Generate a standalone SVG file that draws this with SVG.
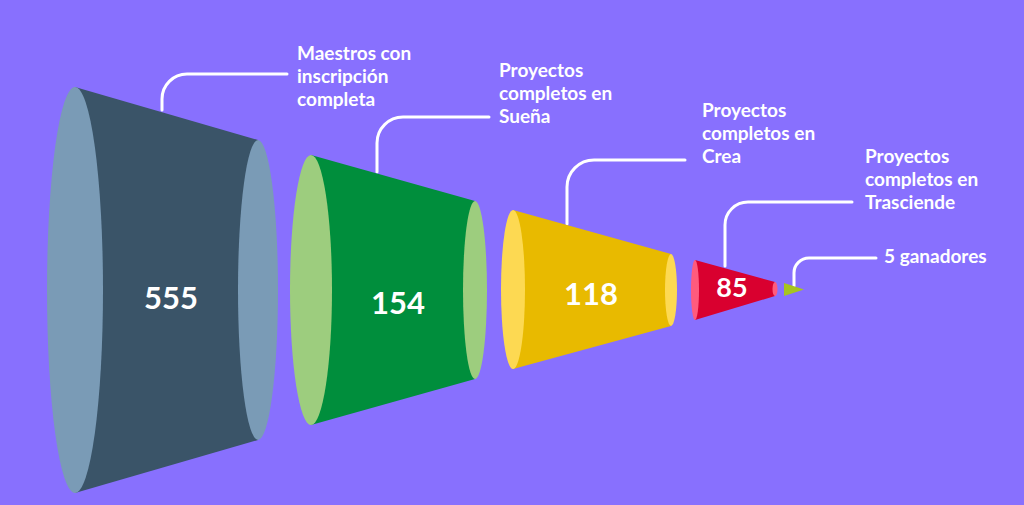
<svg xmlns="http://www.w3.org/2000/svg" width="1024" height="505" viewBox="0 0 1024 505">
<style>
.lbl{font-family:Lato,"Liberation Sans",sans-serif;font-weight:700;font-size:19px;fill:#ffffff}
.num{font-family:Lato,"Liberation Sans",sans-serif;font-weight:700;fill:#ffffff;text-anchor:middle}
.conn{fill:none;stroke:#ffffff;stroke-width:3;stroke-linecap:round}
</style>
<rect width="1024" height="505" fill="#8870fe"/>
<g id="connectors">
<path class="conn" d="M162,110 V99 A25,25 0 0 1 187,74 H287"/>
<path class="conn" d="M377,172 V143 A26,26 0 0 1 403,117 H489"/>
<path class="conn" d="M567,224 V187 A27,27 0 0 1 594,160 H685"/>
<path class="conn" d="M725,266 V225 A23,23 0 0 1 748,202 H852"/>
<path class="conn" d="M794,286 V273 A15,15 0 0 1 809,258 H876"/>
</g>
<g id="cone1">
<path d="M75,87 L258,140 L258,440 L75,493 Z" fill="#3a5468"/>
<ellipse cx="75" cy="290" rx="28" ry="203" fill="#7a9bb6"/>
<ellipse cx="258" cy="290" rx="20" ry="150" fill="#7a9bb6"/>
<text class="num" x="171" y="309" font-size="31">555</text>
</g>
<g id="cone2">
<path d="M311,155 L475,201 L475,379 L311,425 Z" fill="#008e3c"/>
<ellipse cx="311" cy="290" rx="21" ry="135" fill="#9dcd7e"/>
<ellipse cx="475" cy="290" rx="12" ry="89" fill="#9dcd7e"/>
<text class="num" x="398" y="314" font-size="31">154</text>
</g>
<g id="cone3">
<path d="M513,210 L671,254 L671,326 L513,369 Z" fill="#e8ba00"/>
<ellipse cx="513" cy="289.5" rx="12" ry="79.5" fill="#fdd952"/>
<ellipse cx="671" cy="290" rx="6" ry="36" fill="#fdd952"/>
<text class="num" x="591" y="305" font-size="31">118</text>
</g>
<g id="cone4">
<path d="M695,260 L775,282 L775,296 L695,320 Z" fill="#d9002f"/>
<ellipse cx="695" cy="290" rx="4" ry="30" fill="#ff5b7d"/>
<ellipse cx="775" cy="289" rx="2.5" ry="7" fill="#ff5b7d"/>
<text class="num" x="732" y="297" font-size="27">85</text>
</g>
<g id="cone5">
<path d="M784,283 L804,289.5 L784,296 Z" fill="#a7c41f"/>
</g>
<g id="label1">
<text class="lbl" x="297" y="60">Maestros con</text>
<text class="lbl" x="297" y="83">inscripción</text>
<text class="lbl" x="297" y="106">completa</text>
</g>
<g id="label2">
<text class="lbl" x="499" y="77">Proyectos</text>
<text class="lbl" x="499" y="100">completos en</text>
<text class="lbl" x="499" y="123">Sueña</text>
</g>
<g id="label3">
<text class="lbl" x="702" y="117">Proyectos</text>
<text class="lbl" x="702" y="140">completos en</text>
<text class="lbl" x="702" y="163">Crea</text>
</g>
<g id="label4">
<text class="lbl" x="865" y="163">Proyectos</text>
<text class="lbl" x="865" y="186">completos en</text>
<text class="lbl" x="865" y="209">Trasciende</text>
</g>
<g id="label5">
<text class="lbl" x="884" y="263">5 ganadores</text>
</g>
</svg>
